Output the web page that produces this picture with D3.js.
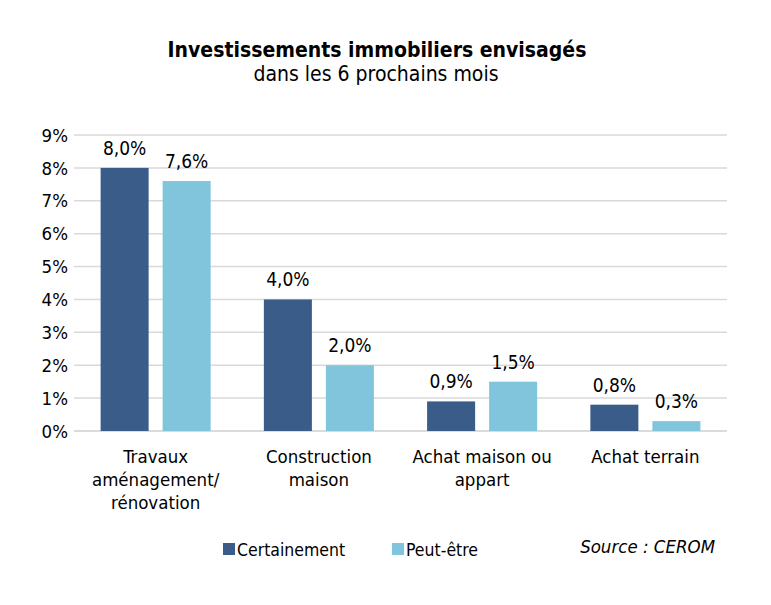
<!DOCTYPE html>
<html><head><meta charset="utf-8">
<script src="https://cdn.jsdelivr.net/npm/d3@7"></script>
<style>body{margin:0;background:#fff;} svg{display:block;}</style>
</head><body>
<script>
const categories = [["Travaux","aménagement/","rénovation"],["Construction","maison"],["Achat maison ou","appart"],["Achat terrain"]];
const seriesNames = ["Certainement","Peut-être"];
const certainement = [8.0, 4.0, 0.9, 0.8];
const peutEtre = [7.6, 2.0, 1.5, 0.3];
const yTicks = [0,1,2,3,4,5,6,7,8,9];
const colors = ["#3a5c88","#80c5db"];
const font = "'DejaVu Sans Condensed','DejaVu Sans',sans-serif";

(function(){
const W=771,H=605;
const svg=d3.select("body").append("svg").attr("width",W).attr("height",H).style("font-family",font);
const pl=74,pr=727,pt=135,pb=431;
const y=d3.scaleLinear().domain([0,9]).range([pb,pt]);
const x0=d3.scaleBand().domain(d3.range(categories.length)).range([pl,pr]).paddingInner(0.326).paddingOuter(0.163);
const x1=d3.scaleBand().domain([0,1]).range([0,x0.bandwidth()]).paddingInner(0.2258);

svg.append("g").selectAll("line").data(yTicks).join("line")
 .attr("x1",pl).attr("x2",pr).attr("y1",d=>y(d)).attr("y2",d=>y(d))
 .attr("stroke",d=>d===0?"#cfcfcf":"#d9d9d9").attr("stroke-width",1.5);
svg.append("g").selectAll("text").data(yTicks).join("text")
 .attr("x",68).attr("y",d=>y(d)).attr("dy","0.36em").attr("text-anchor","end")
 .attr("font-size",18.5).attr("fill","#000").text(d=>d+"%");

const data=[certainement,peutEtre];
const fmt=v=>v.toFixed(1).replace(".",",")+"%";
data.forEach((vals,si)=>{
  const g=svg.append("g");
  g.selectAll("rect").data(vals).join("rect")
   .attr("x",(d,i)=>x0(i)+x1(si)).attr("width",x1.bandwidth())
   .attr("y",d=>y(d)).attr("height",d=>pb-y(d)).attr("fill",colors[si]);
  g.selectAll("text").data(vals).join("text")
   .attr("x",(d,i)=>x0(i)+x1(si)+x1.bandwidth()/2).attr("y",d=>y(d)-13)
   .attr("text-anchor","middle").attr("font-size",19).attr("fill","#000").text(fmt);
});

categories.forEach((lines,i)=>{
  const cx=x0(i)+x0.bandwidth()/2;
  const t=svg.append("text").attr("x",cx).attr("y",463)
   .attr("text-anchor","middle").attr("font-size",18.5).attr("fill","#000");
  lines.forEach((l,j)=>t.append("tspan").attr("x",cx).attr("dy",j?23:0).text(l));
});

svg.append("text").attr("x",377).attr("y",57).attr("text-anchor","middle").attr("font-size",21).attr("font-weight","bold").text("Investissements immobiliers envisagés");
svg.append("text").attr("x",376).attr("y",81).attr("text-anchor","middle").attr("font-size",21).text("dans les 6 prochains mois");

const legX=[223,392];
seriesNames.forEach((n,i)=>{
  svg.append("rect").attr("x",legX[i]).attr("y",543).attr("width",12).attr("height",12).attr("fill",colors[i]);
  svg.append("text").attr("x",legX[i]+14).attr("y",556).attr("font-size",17.5).text(n);
});
svg.append("text").attr("x",715).attr("y",553).attr("text-anchor","end").attr("font-size",18.5).attr("font-style","italic").text("Source : CEROM");
})();
</script>
</body></html>
